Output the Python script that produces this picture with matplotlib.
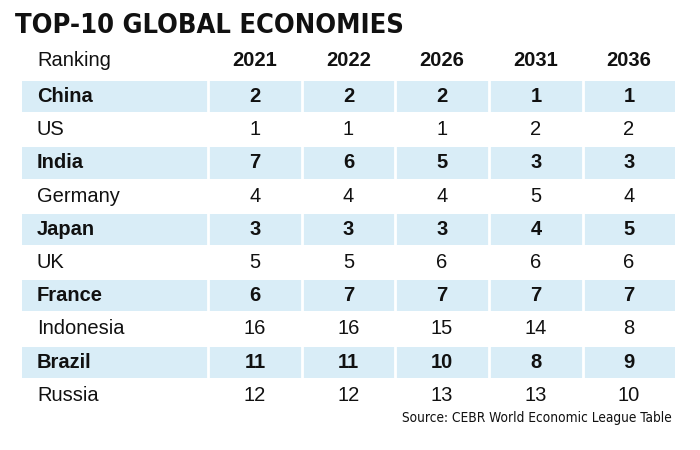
import matplotlib
matplotlib.use("Agg")
import matplotlib.pyplot as plt

# 数据
years = ["2021", "2022", "2026", "2031", "2036"]
countries = ["China", "US", "India", "Germany", "Japan", "UK", "France",
             "Indonesia", "Brazil", "Russia"]
rank_2021 = [2, 1, 7, 4, 3, 5, 6, 16, 11, 12]
rank_2022 = [2, 1, 6, 4, 3, 5, 7, 16, 11, 12]
rank_2026 = [2, 1, 5, 4, 3, 6, 7, 15, 10, 13]
rank_2031 = [1, 2, 3, 5, 4, 6, 7, 14, 8, 13]
rank_2036 = [1, 2, 3, 4, 5, 6, 7, 8, 9, 10]
ranks = [rank_2021, rank_2022, rank_2026, rank_2031, rank_2036]

BODY = ["Liberation Sans", "DejaVu Sans"]
SHADE = "#d9edf7"

fig = plt.figure(figsize=(7, 4.5), dpi=100)
ax = fig.add_axes([0, 0, 1, 1])
ax.set_xlim(0, 700)
ax.set_ylim(450, 0)
ax.axis("off")

# 列边界 (像素)
col_edges = [22, 208, 302, 395, 489, 583, 675]
col_centers = [(col_edges[i] + col_edges[i + 1]) / 2 for i in range(1, 6)]
row_top = 80
row_h = 33.2

ax.text(15, 26, "TOP-10 GLOBAL ECONOMIES", fontsize=19.5, fontweight="bold",
        family="DejaVu Sans", stretch="condensed", color="#111111",
        va="center", ha="left")
ax.text(37, 61, "Ranking", fontsize=14.5, family=BODY, color="#111111",
        va="center", ha="left")
for x, yr in zip(col_centers, years):
    ax.text(x, 61, yr, fontsize=14.5, fontweight="bold", family=BODY,
            color="#111111", va="center", ha="center")

for i, name in enumerate(countries):
    yc = row_top + row_h * (i + 0.5)
    bold = i % 2 == 0
    if bold:
        ax.barh(yc, col_edges[-1] - col_edges[0], left=col_edges[0],
                height=row_h - 2, color=SHADE, zorder=1)
        ax.vlines(col_edges[1:-1], yc - row_h / 2, yc + row_h / 2,
                  color="white", lw=2, zorder=2)
    w = "bold" if bold else "normal"
    ax.text(37, yc, name, fontsize=14.5, fontweight=w, family=BODY,
            color="#111111", va="center", ha="left", zorder=3)
    for x, col in zip(col_centers, ranks):
        ax.text(x, yc, str(col[i]), fontsize=14.5, fontweight=w, family=BODY,
                color="#111111", va="center", ha="center", zorder=3)

ax.text(672, 418, "Source: CEBR World Economic League Table", fontsize=9.8,
        family="DejaVu Sans", stretch="condensed", color="#111111",
        va="center", ha="right")

fig.savefig("out.png", dpi=100)
